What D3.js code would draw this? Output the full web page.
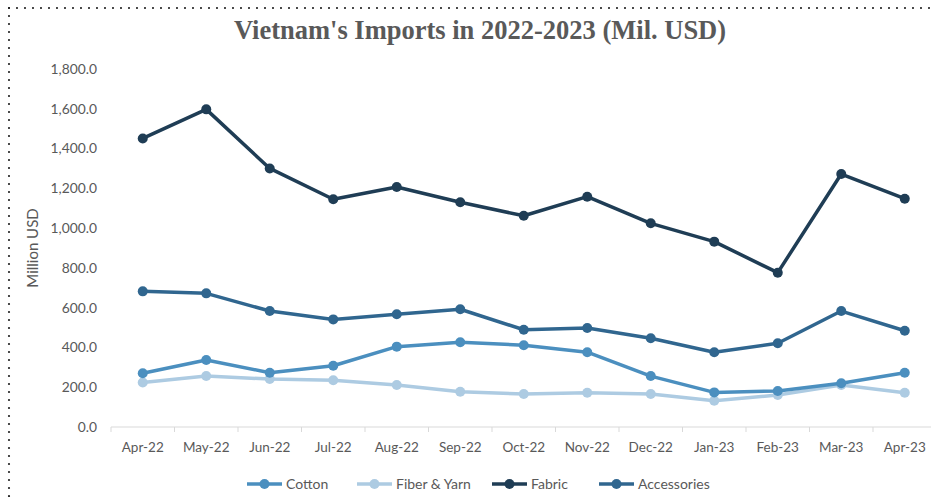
<!DOCTYPE html>
<html>
<head>
<meta charset="utf-8">
<script src="https://cdn.jsdelivr.net/npm/d3@7"></script>
<style>
  html, body { margin: 0; padding: 0; background: #fff; }
  svg { display: block; }
</style>
</head>
<body>
<svg id="chart" width="931" height="497"></svg>
<script>
// Monthly imports, million USD
const months = ["Apr-22","May-22","Jun-22","Jul-22","Aug-22","Sep-22","Oct-22","Nov-22","Dec-22","Jan-23","Feb-23","Mar-23","Apr-23"];
const cotton      = [270, 337, 273, 308, 404, 426, 411, 376, 256, 174, 181, 220, 273];
const fiberYarn   = [224, 256, 241, 235, 211, 177, 166, 172, 166, 132, 161, 211, 172];
const fabric      = [1451, 1597, 1300, 1145, 1207, 1130, 1062, 1158, 1024, 932, 776, 1272, 1148];
const accessories = [682, 672, 583, 541, 567, 592, 489, 498, 446, 376, 421, 583, 484];
const yTicks = [0, 200, 400, 600, 800, 1000, 1200, 1400, 1600, 1800];

const seriesNames  = ["Cotton", "Fiber & Yarn", "Fabric", "Accessories"];
const seriesValues = [cotton, fiberYarn, fabric, accessories];
const seriesColors = ["#4b8fbf", "#adcbe2", "#1f3d55", "#30668f"];

const series = seriesNames.map((name, i) => ({ name, values: seriesValues[i], color: seriesColors[i] }));
// draw order: light lines underneath the darker ones
const drawOrder = [1, 0, 3, 2];

const svg = d3.select("#chart");
const W = 931, H = 497;

// dotted frame (top and left edges)
const frame = svg.append("g")
  .attr("stroke", "#222").attr("stroke-width", 2.2)
  .attr("stroke-dasharray", "0,8").attr("stroke-linecap", "round");
frame.append("line").attr("x1", 9).attr("x2", W).attr("y1", 8).attr("y2", 8);
frame.append("line").attr("x1", 9).attr("x2", 9).attr("y1", 8).attr("y2", H);

const x = d3.scaleBand().domain(months).range([111, 111 + 63.5 * months.length]);
const y = d3.scaleLinear().domain([0, 1800]).range([427, 69]);

// title
svg.append("text")
  .attr("x", 480).attr("y", 39)
  .attr("text-anchor", "middle")
  .attr("font-family", "'Liberation Serif', 'DejaVu Serif', serif")
  .attr("font-weight", "bold")
  .attr("font-size", 26.5)
  .attr("fill", "#595959")
  .text("Vietnam's Imports in 2022-2023 (Mil. USD)");

// y axis (labels only)
const yAxis = d3.axisLeft(y).tickValues(yTicks).tickSize(0).tickPadding(14)
  .tickFormat(d3.format(",.1f"));
const gy = svg.append("g").attr("transform", "translate(111,0)").call(yAxis);
gy.select(".domain").remove();
gy.selectAll("text")
  .attr("font-family", "Lato, 'Open Sans', sans-serif")
  .attr("font-size", 13.8)
  .attr("fill", "#595959");

// y axis title
svg.append("text")
  .attr("transform", "translate(38,248) rotate(-90)")
  .attr("text-anchor", "middle")
  .attr("font-family", "Lato, 'Open Sans', sans-serif")
  .attr("font-size", 15)
  .attr("fill", "#595959")
  .text("Million USD");

// x axis with ticks between categories
const gx = svg.append("g").attr("transform", "translate(0,427)");
gx.append("line").attr("x1", x.range()[0]).attr("x2", x.range()[1]).attr("y1", 0).attr("y2", 0)
  .attr("stroke", "#d9d9d9").attr("stroke-width", 1);
gx.selectAll(".tk").data(months).join("line")
  .attr("class", "tk")
  .attr("x1", d => x(d)).attr("x2", d => x(d))
  .attr("y1", 0).attr("y2", 5)
  .attr("stroke", "#d9d9d9");
gx.selectAll(".lbl").data(months).join("text")
  .attr("class", "lbl")
  .attr("x", d => x(d) + x.bandwidth() / 2)
  .attr("y", 25)
  .attr("text-anchor", "middle")
  .attr("font-family", "Lato, 'Open Sans', sans-serif")
  .attr("font-size", 13.5)
  .attr("fill", "#595959")
  .text(d => d);

// lines and markers
const line = d3.line()
  .x((d, i) => x(months[i]) + x.bandwidth() / 2)
  .y(d => y(d));

drawOrder.forEach(k => {
  const s = series[k];
  const g = svg.append("g");
  g.append("path")
    .attr("d", line(s.values))
    .attr("fill", "none")
    .attr("stroke", s.color)
    .attr("stroke-width", 3.5)
    .attr("stroke-linejoin", "round");
  g.selectAll("circle").data(s.values).join("circle")
    .attr("cx", (d, i) => x(months[i]) + x.bandwidth() / 2)
    .attr("cy", d => y(d))
    .attr("r", 5)
    .attr("fill", s.color);
});

// legend
const legendX = [247, 357, 492, 599];
const legend = svg.append("g").attr("transform", "translate(0,484)");
series.forEach((s, i) => {
  const g = legend.append("g").attr("transform", `translate(${legendX[i]},0)`);
  g.append("line").attr("x1", 0).attr("x2", 35).attr("y1", 0).attr("y2", 0)
    .attr("stroke", s.color).attr("stroke-width", 3.5);
  g.append("circle").attr("cx", 17.5).attr("cy", 0).attr("r", 5).attr("fill", s.color);
  g.append("text").attr("x", 39).attr("y", 5)
    .attr("font-family", "Lato, 'Open Sans', sans-serif")
    .attr("font-size", 14)
    .attr("fill", "#595959")
    .text(s.name);
});
</script>
</body>
</html>
